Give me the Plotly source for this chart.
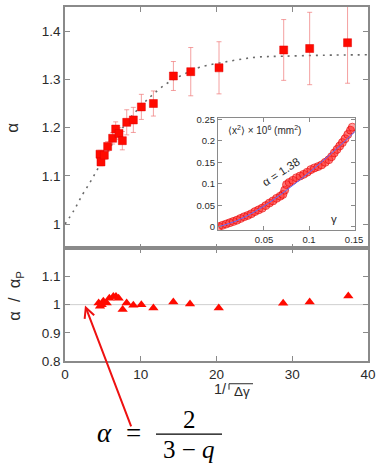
import plotly.graph_objects as go

# ---------------- data ----------------
inv_sqrt_dg = [4.62, 4.75, 5.19, 5.63, 6.29, 6.69, 7.13, 7.57, 8.15, 9.02, 10.08, 11.67, 14.31, 16.6, 20.33, 28.87, 32.3, 37.3]
alpha_vals = [1.145, 1.129, 1.143, 1.161, 1.178, 1.197, 1.188, 1.173, 1.211, 1.216, 1.243, 1.250, 1.307, 1.316, 1.324, 1.361, 1.364, 1.376]
alpha_err = [0.008, 0.008, 0.008, 0.010, 0.012, 0.015, 0.012, 0.019, 0.026, 0.026, 0.026, 0.026, 0.030, 0.050, 0.054, 0.063, 0.075, 0.084]

fit_x = [0, 1.2, 2.3, 3.4, 4.3, 6.0, 8.1, 10.8, 13.4, 16.0, 17.8, 21.8, 25.3, 28.8, 34.1, 40]
fit_y = [1.0, 1.029, 1.061, 1.089, 1.114, 1.160, 1.210, 1.257, 1.291, 1.313, 1.325, 1.338, 1.346, 1.348, 1.350, 1.351]

ratio_x = [4.44, 4.62, 4.84, 5.06, 5.5, 5.85, 6.38, 6.73, 7.08, 7.61, 8.14, 9.02, 10.08, 11.67, 14.3, 16.5, 20.3, 28.8, 32.3, 37.4]
ratio_y = [1.006, 0.994, 1.0, 1.012, 1.006, 1.023, 1.029, 1.029, 1.023, 0.983, 1.006, 0.998, 1.0, 0.988, 1.009, 1.002, 0.988, 1.005, 1.009, 1.031]

inset_gamma = [0.000, 0.004, 0.008, 0.012, 0.016, 0.020, 0.024, 0.028, 0.032, 0.036, 0.040, 0.044, 0.048, 0.052,
               0.056, 0.060, 0.064, 0.068, 0.071, 0.073, 0.075, 0.078, 0.082, 0.086, 0.090, 0.094, 0.098, 0.102,
               0.106, 0.110, 0.114, 0.118, 0.122, 0.125, 0.128, 0.131, 0.134, 0.137, 0.140, 0.143, 0.146, 0.148]
inset_msd = [0.000, 0.003, 0.006, 0.009, 0.012, 0.015, 0.019, 0.023, 0.026, 0.030, 0.035, 0.039, 0.043, 0.049,
             0.055, 0.060, 0.066, 0.071, 0.075, 0.085, 0.098, 0.103, 0.108, 0.114, 0.118, 0.122, 0.127, 0.133,
             0.137, 0.140, 0.144, 0.150, 0.156, 0.163, 0.172, 0.180, 0.188, 0.196, 0.205, 0.215, 0.225, 0.232]
inset_fit_x = [0, 0.02, 0.04, 0.06, 0.08, 0.10, 0.12, 0.14, 0.152]
inset_fit_y = [0, 0.014, 0.035, 0.062, 0.093, 0.126, 0.162, 0.200, 0.224]

x_ticks = [0, 10, 20, 30, 40]
alpha_ticks = [1, 1.1, 1.2, 1.3, 1.4]
alpha_ticklabels = ["1", "1.1", "1.2", "1.3", "1.4"]
ratio_ticks = [0.8, 0.9, 1, 1.1]
ratio_ticklabels = ["0.8", "0.9", "1", "1.1"]
inset_xticks = [0.05, 0.1, 0.15]
inset_xticklabels = ["0.05", "0.1", "0.15"]
inset_yticks = [0, 0.05, 0.1, 0.15, 0.2, 0.25]
inset_yticklabels = ["0", "0.05", "0.1", "0.15", "0.2", "0.25"]

# ---------------- layout helpers (pixel -> paper) ----------------
W, H = 381, 469
L, R, T, B = 65, 368, 3, 361
def px(x):
    return (x - L) / (R - L)
def py(y):
    return (B - y) / (B - T)

split = py(247)
AX = "#8a8a8a"
TXT = "#2a2a2a"
FONT = "Liberation Sans, Arial, sans-serif"
SERIF = "Liberation Serif, Times New Roman, serif"

fig = go.Figure()

# upper panel
fig.add_trace(go.Scatter(x=fit_x, y=fit_y, mode="lines", line=dict(color="#6a6a6a", width=1.6, dash="2px,5px", shape="spline"),
                         xaxis="x2", yaxis="y", hoverinfo="skip", showlegend=False))
fig.add_trace(go.Scatter(x=inv_sqrt_dg, y=alpha_vals, mode="markers",
                         marker=dict(symbol="square", size=8, color="#ff0a00", line=dict(color="#e00000", width=0.5)),
                         error_y=dict(type="data", array=alpha_err, color="rgba(240,120,120,0.7)", thickness=1, width=2.5),
                         xaxis="x2", yaxis="y", showlegend=False))
# lower panel
fig.add_trace(go.Scatter(x=ratio_x, y=ratio_y, mode="markers",
                         marker=dict(symbol="triangle-up", size=9, color="#ff0a00", line=dict(width=0)),
                         xaxis="x", yaxis="y2", showlegend=False))
# inset
fig.add_trace(go.Scatter(x=inset_gamma, y=inset_msd, mode="markers+lines",
                         line=dict(color="rgba(255,40,40,0.35)", width=7),
                         marker=dict(symbol="circle", size=8, color="rgba(255,40,40,0.45)", line=dict(color="rgba(230,0,0,0.6)", width=1)),
                         xaxis="x3", yaxis="y3", showlegend=False))
fig.add_trace(go.Scatter(x=inset_fit_x, y=inset_fit_y, mode="lines", line=dict(color="#5a6cff", width=1, shape="spline"),
                         xaxis="x3", yaxis="y3", showlegend=False))

common_axis = dict(showline=True, linecolor=AX, linewidth=1.5, ticks="inside", ticklen=5, tickcolor=AX, tickwidth=1.2,
                   mirror="ticks", showgrid=False, zeroline=False, tickfont=dict(family=FONT, size=13.5, color=TXT))

fig.update_layout(
    width=W, height=H, autosize=False,
    margin=dict(l=L, r=W - R, t=T, b=H - B, pad=0),
    paper_bgcolor="white", plot_bgcolor="white",
    xaxis=dict(domain=[0, 1], anchor="y2", range=[0, 40], tickvals=x_ticks, **common_axis),
    yaxis2=dict(domain=[0, split], anchor="x", range=[0.8, 1.2], tickvals=ratio_ticks, ticktext=ratio_ticklabels, **common_axis),
    xaxis2=dict(domain=[0, 1], anchor="y", range=[0, 40], matches="x", tickvals=x_ticks, showticklabels=False, **common_axis),
    yaxis=dict(domain=[split, 1], anchor="x2", range=[0.95, 1.45], tickvals=alpha_ticks, ticktext=alpha_ticklabels, **common_axis),
    xaxis3=dict(domain=[px(218), px(355)], anchor="y3", range=[-0.001, 0.151], tickvals=inset_xticks, ticktext=inset_xticklabels,
                showline=True, linecolor=AX, linewidth=1.2, ticks="inside", ticklen=4, tickcolor=AX, mirror="ticks",
                showgrid=False, zeroline=False, tickfont=dict(family=FONT, size=9.5, color=TXT)),
    yaxis3=dict(domain=[py(229), py(115)], anchor="x3", range=[-0.009, 0.254], tickvals=inset_yticks, ticktext=inset_yticklabels,
                showline=True, linecolor=AX, linewidth=1.2, ticks="inside", ticklen=4, tickcolor=AX, mirror="ticks",
                showgrid=False, zeroline=False, tickfont=dict(family=FONT, size=9.5, color=TXT)),
)

shapes = []
# reference line at 1 in the lower panel
shapes.append(dict(type="line", xref="x", yref="y2", x0=0, x1=40, y0=1, y1=1, line=dict(color="#cfcfcf", width=1), layer="below"))
# inset white background
shapes.append(dict(type="rect", xref="paper", yref="paper", x0=px(218), x1=px(355), y0=py(229), y1=py(115),
                   fillcolor="white", line=dict(width=0), layer="below"))
# x-title radical bar
shapes.append(dict(type="line", xref="paper", yref="paper", x0=px(229), x1=px(253), y0=py(384), y1=py(384), line=dict(color=TXT, width=1)))
shapes.append(dict(type="line", xref="paper", yref="paper", x0=px(229), x1=px(229), y0=py(384), y1=py(390), line=dict(color=TXT, width=1)))
# fraction bar
shapes.append(dict(type="line", xref="paper", yref="paper", x0=px(156), x1=px(222), y0=py(435), y1=py(435), line=dict(color="black", width=1.4)))

ann = []
def text(x, y, s, size, family=FONT, color=TXT, angle=0):
    ann.append(dict(xref="paper", yref="paper", x=px(x), y=py(y), text=s, showarrow=False, textangle=angle,
                    xanchor="center", yanchor="middle", font=dict(family=family, size=size, color=color)))

text(13, 125, "α", 17, angle=-90)
text(15, 295, "α\u00a0\u00a0/\u00a0\u00a0α<sub>P</sub>", 16.5, angle=-90)
text(220, 389, "1/", 14.5)
text(242, 392, "Δγ", 13.5)
text(264, 127, "⟨x<sup>2</sup>⟩ × 10<sup>6</sup> (mm<sup>2</sup>)", 10)
text(281, 170, "α = 1.38", 11.5, angle=-33)
text(334, 217, "γ", 11.5)
# equation
text(104, 434, "<i>α</i>", 27, family=SERIF, color="black")
text(133, 434, "=", 27, family=SERIF, color="black")
text(189, 420, "2", 25, family=SERIF, color="black")
text(189, 451, "3 − <i>q</i>", 25, family=SERIF, color="black")

# red arrow
ann.append(dict(xref="x", yref="y2", x=2.64, y=0.997, ax=46.7, ay=122.4, axref="pixel", ayref="pixel",
                showarrow=True, arrowhead=5, arrowsize=1, arrowwidth=2, arrowcolor="#ee1111", text=""))

fig.update_layout(shapes=shapes, annotations=ann)

fig.write_html("out.html", config={"displayModeBar": False}, post_script="document.body.style.margin='0';")
